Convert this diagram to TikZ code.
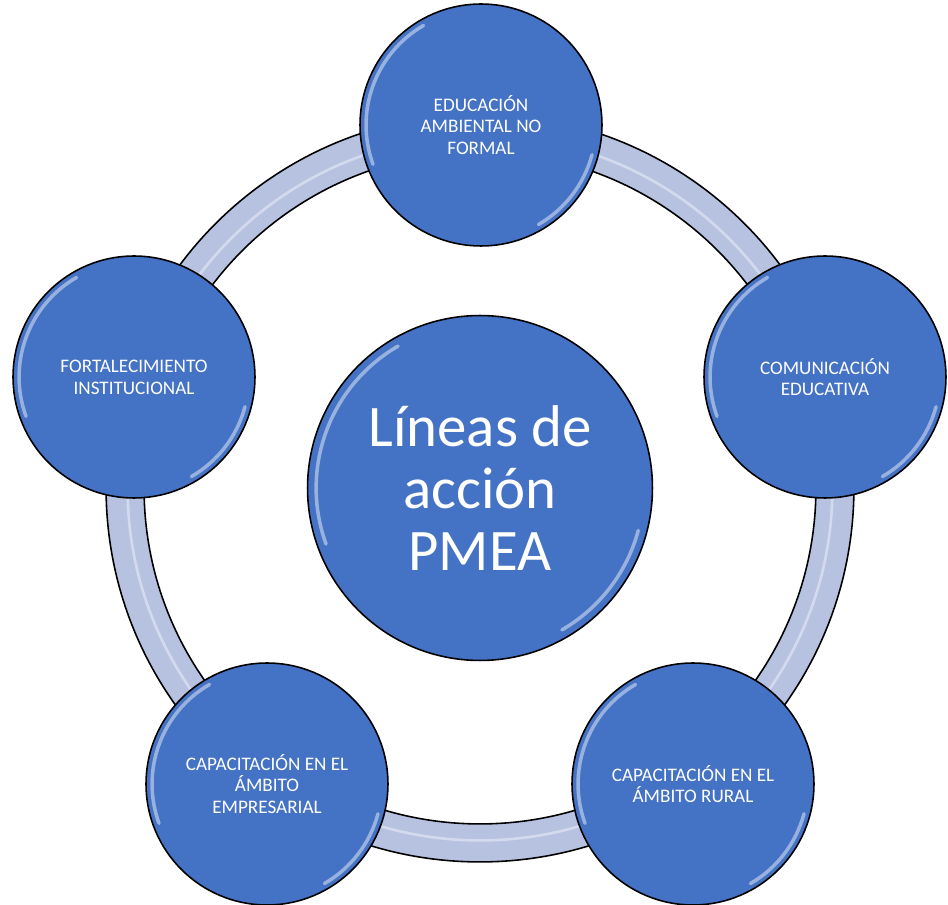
\documentclass[tikz,border=0pt]{standalone}
\usepackage{fontspec}
\setmainfont{Carlito}
\usepackage{tikz}
\usepackage{xcolor}
\usetikzlibrary{calc}

\definecolor{pmblue}{HTML}{4472C4}
\definecolor{ringblue}{HTML}{B7C2E1}

\begin{document}
\begin{tikzpicture}[
      x=0.02cm, y=-0.02cm,
      gloss/.style={path picture={
        \path let \p1=(path picture bounding box.east), \p2=(path picture bounding box.center),
          \n1={0.95*(\x1-\x2)} in
          [draw=white, opacity=.45, line width=2pt, line cap=round]
          ($(\p2)+(120:\n1)$) arc[start angle=120, end angle=200, radius=\n1]
          ($(\p2)+(-15:\n1)$) arc[start angle=-15, end angle=-60, radius=\n1];
      }},
      bubble/.style={circle, draw=black, line width=0.9pt, fill=pmblue, text=white, inner sep=0pt,
        minimum size=4.84cm, align=center, font=\fontsize{10.9}{12.4}\selectfont, gloss},
      hub/.style={bubble, minimum size=6.9cm, font=\fontsize{33.5}{35.5}\selectfont},
      ring/.style={draw=black, line width=0.9pt, fill=ringblue, even odd rule}
  ]
    \useasboundingbox (0,0) rectangle (948,905);
    \coordinate (mid) at (480,488);
    % ring behind the bubbles
    \path[ring] (mid) circle[radius=7.48cm] (mid) circle[radius=6.72cm];
    \draw[white, opacity=.4, line width=1.5pt] (mid) circle[radius=7.05cm];
    \node[hub] (pmea) at (mid) {Líneas de\\acción\\PMEA};
    \node[bubble] (formal) at (481,125) {EDUCACIÓN\\AMBIENTAL NO\\FORMAL};
    \node[bubble] (comun) at (825,377) {COMUNICACIÓN\\EDUCATIVA};
    \node[bubble] (rural) at (693,784) {CAPACITACIÓN EN EL\\ÁMBITO RURAL};
    \node[bubble] (empresa) at (267,784) {CAPACITACIÓN EN EL\\ÁMBITO\\EMPRESARIAL};
    \node[bubble] (inst) at (134,377) {FORTALECIMIENTO\\INSTITUCIONAL};
  \end{tikzpicture}
\end{document}
